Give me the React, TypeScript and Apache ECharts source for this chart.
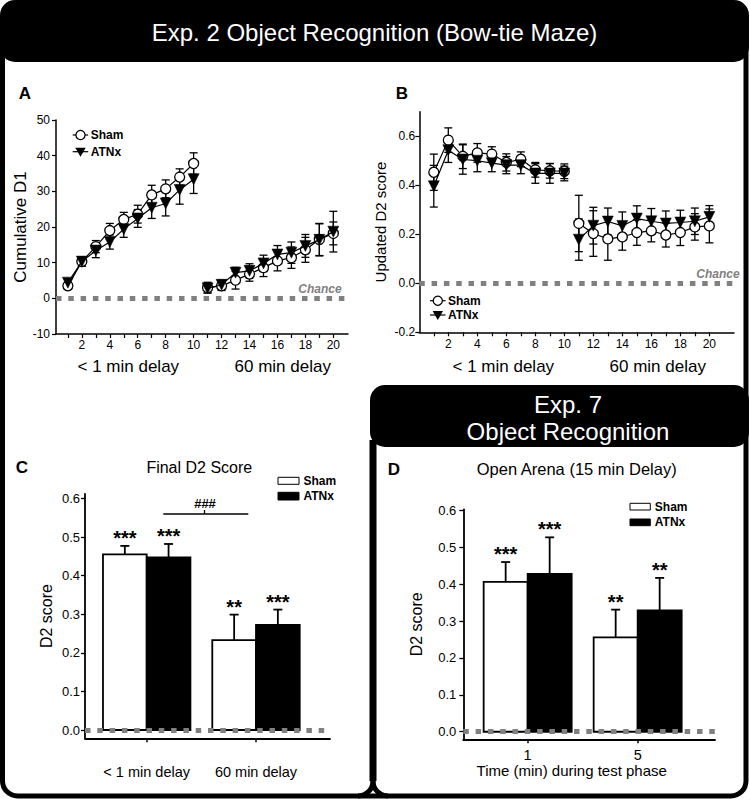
import React, { useEffect, useRef } from 'react';
import * as echarts from 'echarts';

// ---------- DATA ----------
const trials = [1, 2, 3, 4, 5, 6, 7, 8, 9, 10, 11, 12, 13, 14, 15, 16, 17, 18, 19, 20];
const trialLabels = [2, 4, 6, 8, 10, 12, 14, 16, 18, 20];

// Panel A: cumulative D1
const shamD1 = [3.5, 10.3, 14.5, 19.0, 22.1, 23.6, 29.0, 30.7, 34.0, 37.8, 3.0, 3.5, 5.1, 6.8, 8.6, 10.5, 11.4, 13.6, 16.5, 18.2];
const shamD1Err = [1.0, 1.2, 1.7, 2.0, 2.0, 2.5, 2.7, 2.5, 2.3, 3.0, 1.5, 1.3, 2.5, 2.0, 2.5, 2.8, 3.0, 3.5, 4.5, 3.2];
const atnxD1 = [4.4, 10.3, 13.4, 15.8, 19.4, 22.4, 25.4, 26.6, 30.4, 33.4, 2.8, 3.8, 7.2, 7.7, 9.8, 12.3, 12.8, 14.7, 16.4, 18.7];
const atnxD1Err = [1.0, 1.3, 2.0, 2.0, 2.3, 2.5, 3.0, 3.5, 4.0, 4.0, 1.3, 1.3, 1.5, 2.0, 2.3, 2.5, 3.0, 3.2, 4.5, 5.7];

// Panel B: updated D2
const shamD2 = [0.453, 0.584, 0.518, 0.532, 0.527, 0.493, 0.506, 0.463, 0.459, 0.457, 0.244, 0.203, 0.181, 0.189, 0.207, 0.214, 0.197, 0.207, 0.230, 0.234];
const shamD2Err = [0.074, 0.05, 0.05, 0.038, 0.03, 0.035, 0.03, 0.03, 0.03, 0.03, 0.115, 0.093, 0.087, 0.054, 0.052, 0.045, 0.049, 0.053, 0.054, 0.069];
const atnxD2 = [0.396, 0.543, 0.505, 0.500, 0.490, 0.482, 0.482, 0.448, 0.448, 0.448, 0.178, 0.235, 0.252, 0.234, 0.264, 0.253, 0.244, 0.248, 0.253, 0.271];
const atnxD2Err = [0.085, 0.05, 0.06, 0.045, 0.035, 0.035, 0.035, 0.04, 0.04, 0.03, 0.084, 0.075, 0.055, 0.057, 0.052, 0.052, 0.051, 0.05, 0.054, 0.046];

// Panel C: final D2
const delayGroups = ['< 1 min delay', '60 min delay'];
const shamFinal = [0.455, 0.233];
const shamFinalErr = [0.022, 0.066];
const atnxFinal = [0.447, 0.272];
const atnxFinalErr = [0.035, 0.04];
const shamFinalStars = ['***', '**'];
const atnxFinalStars = ['***', '***'];

// Panel D: open arena
const timeGroups = ['1', '5'];
const shamArena = [0.406, 0.256];
const shamArenaErr = [0.054, 0.075];
const atnxArena = [0.428, 0.329];
const atnxArenaErr = [0.099, 0.088];
const shamArenaStars = ['***', '**'];
const atnxArenaStars = ['***', '**'];

const dTicks = [0, 0.1, 0.2, 0.3, 0.4, 0.5, 0.6];
const bTicks = [-0.2, 0, 0.2, 0.4, 0.6];

// ---------- STYLE ----------
const F = "'Liberation Sans', Arial, Helvetica, sans-serif";
const BLACK = '#000';
const GRAY = '#808080';

const chanceLine = {
  silent: true,
  symbol: 'none',
  label: { show: false },
  emphasis: { disabled: true },
  lineStyle: { color: GRAY, width: 5, type: [5.5, 6.8], cap: 'butt' },
  data: [{ yAxis: 0 }],
  z: 6,
};

function errSeries(idx: number, means: number[], errs: number[], withChance: boolean) {
  return {
    type: 'custom',
    xAxisIndex: idx,
    yAxisIndex: idx,
    silent: true,
    clip: false,
    z: 1,
    data: trials.map((t, i) => [t, means[i], errs[i]]),
    renderItem: (_p: any, api: any) => {
      const x = api.value(0);
      const m = api.value(1);
      const e = api.value(2);
      const a = api.coord([x, m + e]);
      const b = api.coord([x, m - e]);
      const cw = 4;
      const st = { stroke: BLACK, lineWidth: 1.3 };
      return {
        type: 'group',
        children: [
          { type: 'line', shape: { x1: a[0], y1: a[1], x2: b[0], y2: b[1] }, style: st },
          { type: 'line', shape: { x1: a[0] - cw, y1: a[1], x2: a[0] + cw, y2: a[1] }, style: st },
          { type: 'line', shape: { x1: b[0] - cw, y1: b[1], x2: b[0] + cw, y2: b[1] }, style: st },
        ],
      };
    },
    markLine: withChance ? chanceLine : undefined,
  };
}

function lineSeries(name: string, idx: number, means: number[], s: number, e: number, sham: boolean) {
  return {
    name,
    type: 'line',
    xAxisIndex: idx,
    yAxisIndex: idx,
    z: sham ? 2 : 3,
    silent: true,
    data: trials.slice(s, e).map((t, i) => [t, means[s + i]]),
    lineStyle: { color: BLACK, width: 1.2 },
    symbol: sham ? 'circle' : 'triangle',
    symbolRotate: sham ? 0 : 180,
    symbolSize: sham ? 10 : 11,
    itemStyle: sham
      ? { color: '#fff', borderColor: BLACK, borderWidth: 1.3 }
      : { color: BLACK, borderColor: BLACK, borderWidth: 0.5 },
  };
}

function barSeries(
  name: string,
  idx: number,
  vals: number[],
  errs: number[],
  stars: string[],
  sham: boolean,
  withChance: boolean
) {
  return {
    name,
    type: 'custom',
    xAxisIndex: idx,
    yAxisIndex: idx,
    silent: true,
    clip: false,
    z: 2,
    data: vals.map((v, i) => [i + 1, v, errs[i]]),
    renderItem: (params: any, api: any) => {
      const c = api.value(0);
      const v = api.value(1);
      const e = api.value(2);
      const x0 = sham ? c - 0.4 : c;
      const x1 = sham ? c : c + 0.4;
      const tl = api.coord([x0, v]);
      const br = api.coord([x1, 0]);
      const mid = (tl[0] + br[0]) / 2;
      const et = api.coord([(x0 + x1) / 2, v + e]);
      const cw = 4.5;
      const st = { stroke: BLACK, lineWidth: 1.8 };
      return {
        type: 'group',
        children: [
          {
            type: 'rect',
            shape: { x: tl[0], y: tl[1], width: br[0] - tl[0], height: br[1] - tl[1] },
            style: { fill: sham ? '#fff' : BLACK, stroke: BLACK, lineWidth: 1.8 },
          },
          { type: 'line', shape: { x1: mid, y1: tl[1], x2: mid, y2: et[1] }, style: st },
          { type: 'line', shape: { x1: mid - cw, y1: et[1], x2: mid + cw, y2: et[1] }, style: st },
          {
            type: 'text',
            style: {
              text: stars[params.dataIndex],
              x: mid,
              y: et[1] - 8,
              align: 'center',
              verticalAlign: 'middle',
              fontSize: 20,
              fontWeight: 'bold',
              fontFamily: F,
              fill: BLACK,
            },
          },
        ],
      };
    },
    markLine: withChance ? chanceLine : undefined,
  };
}

const axisLine = (w: number) => ({ show: true, onZero: false, lineStyle: { color: BLACK, width: w } });

function txt(text: string, x: number, y: number, size: number, extra: any = {}) {
  return {
    type: 'text',
    x,
    y,
    silent: true,
    style: {
      text,
      fontSize: size,
      fontFamily: F,
      fill: extra.fill || BLACK,
      fontWeight: extra.fontWeight || 'normal',
      fontStyle: extra.fontStyle || 'normal',
      align: extra.align || 'center',
      verticalAlign: 'middle',
    },
  };
}

function lineLegend(x: number, y: number, sham: boolean) {
  const items: any[] = [
    { type: 'line', silent: true, shape: { x1: x, y1: y, x2: x + 15.5, y2: y }, style: { stroke: BLACK, lineWidth: 1.2 } },
  ];
  if (sham) {
    items.push({ type: 'circle', silent: true, shape: { cx: x + 7.8, cy: y, r: 4.6 }, style: { fill: '#fff', stroke: BLACK, lineWidth: 1.3 } });
  } else {
    items.push({
      type: 'polygon',
      silent: true,
      shape: { points: [[x + 2.6, y - 4], [x + 13, y - 4], [x + 7.8, y + 5]] },
      style: { fill: BLACK },
    });
  }
  items.push(txt(sham ? 'Sham' : 'ATNx', x + 18, y, 12, { align: 'left', fontWeight: 'bold' }));
  return items;
}

function barLegend(x: number, y: number, w: number, h: number, sham: boolean) {
  return [
    {
      type: 'rect',
      silent: true,
      shape: { x, y, width: w, height: h },
      style: { fill: sham ? '#fff' : BLACK, stroke: BLACK, lineWidth: 1 },
    },
    txt(sham ? 'Sham' : 'ATNx', x + w + 4.5, y + h / 2, 12, { align: 'left', fontWeight: 'bold' }),
  ];
}

const frame = [
  // outer frame
  { type: 'rect', silent: true, shape: { x: 2.5, y: 30, width: 743.5, height: 766, r: 15 }, style: { fill: 'none', stroke: BLACK, lineWidth: 5 } },
  // vertical divider lower half
  { type: 'line', silent: true, shape: { x1: 373, y1: 440, x2: 373, y2: 781 }, style: { stroke: BLACK, lineWidth: 7 } },
  { type: 'arc', silent: true, shape: { cx: 358, cy: 781, r: 15, startAngle: 0, endAngle: Math.PI / 2, clockwise: true }, style: { fill: 'none', stroke: BLACK, lineWidth: 5 } },
  { type: 'arc', silent: true, shape: { cx: 388, cy: 781, r: 15, startAngle: Math.PI / 2, endAngle: Math.PI, clockwise: true }, style: { fill: 'none', stroke: BLACK, lineWidth: 5 } },
  // headers
  { type: 'rect', silent: true, shape: { x: 0, y: 0, width: 749, height: 62, r: 15 }, style: { fill: BLACK } },
  { type: 'rect', silent: true, shape: { x: 370, y: 385, width: 379, height: 62, r: 15 }, style: { fill: BLACK } },
  txt('Exp. 2 Object Recognition (Bow-tie Maze)', 374.5, 32, 24, { fill: '#fff' }),
  txt('Exp. 7', 568, 404, 24, { fill: '#fff' }),
  txt('Object Recognition', 568, 431, 24, { fill: '#fff' }),
];

const annotations = [
  txt('A', 25, 93, 17, { fontWeight: 'bold' }),
  txt('B', 402, 93, 17, { fontWeight: 'bold' }),
  txt('C', 22, 467, 17, { fontWeight: 'bold' }),
  txt('D', 394, 469, 17, { fontWeight: 'bold' }),
  txt('Final D2 Score', 199.3, 467.3, 16),
  txt('Open Arena (15 min Delay)', 576.7, 469.3, 16.5),
  txt('Chance', 320, 289.3, 12, { fill: GRAY, fontWeight: 'bold', fontStyle: 'italic' }),
  txt('Chance', 718, 274.3, 12, { fill: GRAY, fontWeight: 'bold', fontStyle: 'italic' }),
  txt(delayGroups[0], 128.3, 366.7, 17),
  txt(delayGroups[1], 282.7, 366.7, 17),
  txt(delayGroups[0], 503.3, 366, 17),
  txt(delayGroups[1], 657.7, 366, 17),
  txt('Time (min) during test phase', 571.7, 770.7, 15),
  // ### significance bar
  { type: 'line', silent: true, shape: { x1: 163.3, y1: 514, x2: 248.3, y2: 514 }, style: { stroke: BLACK, lineWidth: 1.3 } },
  { type: 'line', silent: true, shape: { x1: 204.5, y1: 510, x2: 204.5, y2: 514 }, style: { stroke: BLACK, lineWidth: 1.3 } },
  txt('###', 205, 503.5, 13, { fontWeight: 'bold' }),
  ...lineLegend(72.7, 135, true),
  ...lineLegend(72.7, 151.7, false),
  ...lineLegend(430, 300.7, true),
  ...lineLegend(430, 315, false),
  ...barLegend(278, 477.3, 21, 7, true),
  ...barLegend(278, 492.3, 21, 7.7, false),
  ...barLegend(630, 503.3, 20.3, 6.7, true),
  ...barLegend(630, 519, 20.3, 6.7, false),
];

const tickLabel = (size: number, margin: number) => ({ color: BLACK, fontSize: size, fontFamily: F, margin });

const option: any = {
  animation: false,
  backgroundColor: '#fff',
  grid: [
    { left: 56, top: 120, width: 292, height: 214 },
    { left: 419.3, top: 111.7, width: 314.7, height: 220.6 },
    { left: 85, top: 493.8, width: 245, height: 244.5 },
    { left: 463.3, top: 509.3, width: 251.7, height: 230 },
  ],
  xAxis: [
    {
      gridIndex: 0, type: 'value', min: 0.15, max: 21.05,
      axisLine: axisLine(1.5),
      axisTick: { show: true, customValues: trials, length: 4, lineStyle: { color: BLACK, width: 1.2 } },
      axisLabel: { ...tickLabel(12, 5), customValues: trialLabels },
      splitLine: { show: false },
    },
    {
      gridIndex: 1, type: 'value', min: 0, max: 21.7,
      axisLine: axisLine(1.5),
      axisTick: { show: true, customValues: trials, length: 4, lineStyle: { color: BLACK, width: 1.2 } },
      axisLabel: { ...tickLabel(12, 6), customValues: trialLabels },
      splitLine: { show: false },
    },
    {
      gridIndex: 2, type: 'value', min: 0.4355, max: 2.677,
      axisLine: axisLine(1.8),
      axisTick: { show: true, customValues: [1, 2], length: 4, lineStyle: { color: BLACK, width: 1.5 } },
      axisLabel: { ...tickLabel(14.5, 26), customValues: [1, 2], formatter: (v: number) => delayGroups[Math.round(v) - 1] },
      splitLine: { show: false },
    },
    {
      gridIndex: 3, type: 'value', min: 0.415, max: 2.703,
      axisLine: axisLine(1.8),
      axisTick: { show: true, customValues: [1, 2], length: 4, lineStyle: { color: BLACK, width: 1.5 } },
      axisLabel: { ...tickLabel(14.5, 8), customValues: [1, 2], formatter: (v: number) => timeGroups[Math.round(v) - 1] },
      splitLine: { show: false },
    },
  ],
  yAxis: [
    {
      gridIndex: 0, type: 'value', min: -10, max: 50, interval: 10,
      name: 'Cumulative D1', nameLocation: 'middle', nameGap: 19,
      nameTextStyle: { color: BLACK, fontSize: 17, fontFamily: F },
      axisLine: axisLine(1.5),
      axisTick: { show: true, length: 4, lineStyle: { color: BLACK, width: 1.2 } },
      axisLabel: tickLabel(12, 6),
      splitLine: { show: false },
    },
    {
      gridIndex: 1, type: 'value', min: -0.2, max: 0.7,
      name: 'Updated D2 score', nameLocation: 'middle', nameGap: 31,
      nameTextStyle: { color: BLACK, fontSize: 15, fontFamily: F },
      axisLine: axisLine(1.5),
      axisTick: { show: true, customValues: bTicks, length: 4, lineStyle: { color: BLACK, width: 1.2 } },
      axisLabel: { ...tickLabel(12, 4), customValues: bTicks, formatter: (v: number) => v.toFixed(1) },
      splitLine: { show: false },
    },
    {
      gridIndex: 2, type: 'value', min: -0.0215, max: 0.612,
      name: 'D2 score', nameLocation: 'middle', nameGap: 31,
      nameTextStyle: { color: BLACK, fontSize: 16, fontFamily: F },
      axisLine: axisLine(1.8),
      axisTick: { show: true, customValues: dTicks, length: 4, lineStyle: { color: BLACK, width: 1.3 } },
      axisLabel: { ...tickLabel(13, 5), customValues: dTicks, formatter: (v: number) => v.toFixed(1) },
      splitLine: { show: false },
    },
    {
      gridIndex: 3, type: 'value', min: -0.0205, max: 0.603,
      name: 'D2 score', nameLocation: 'middle', nameGap: 39,
      nameTextStyle: { color: BLACK, fontSize: 16, fontFamily: F },
      axisLine: axisLine(1.8),
      axisTick: { show: true, customValues: dTicks, length: 4, lineStyle: { color: BLACK, width: 1.3 } },
      axisLabel: { ...tickLabel(13, 7), customValues: dTicks, formatter: (v: number) => v.toFixed(1) },
      splitLine: { show: false },
    },
  ],
  series: [
    errSeries(0, shamD1, shamD1Err, true),
    errSeries(0, atnxD1, atnxD1Err, false),
    lineSeries('Sham', 0, shamD1, 0, 10, true),
    lineSeries('Sham', 0, shamD1, 10, 20, true),
    lineSeries('ATNx', 0, atnxD1, 0, 10, false),
    lineSeries('ATNx', 0, atnxD1, 10, 20, false),
    errSeries(1, shamD2, shamD2Err, true),
    errSeries(1, atnxD2, atnxD2Err, false),
    lineSeries('Sham', 1, shamD2, 0, 10, true),
    lineSeries('Sham', 1, shamD2, 10, 20, true),
    lineSeries('ATNx', 1, atnxD2, 0, 10, false),
    lineSeries('ATNx', 1, atnxD2, 10, 20, false),
    barSeries('Sham', 2, shamFinal, shamFinalErr, shamFinalStars, true, true),
    barSeries('ATNx', 2, atnxFinal, atnxFinalErr, atnxFinalStars, false, false),
    barSeries('Sham', 3, shamArena, shamArenaErr, shamArenaStars, true, true),
    barSeries('ATNx', 3, atnxArena, atnxArenaErr, atnxArenaStars, false, false),
  ],
  graphic: [...frame, ...annotations],
};

export default function App() {
  const ref = useRef<HTMLDivElement>(null);
  useEffect(() => {
    if (!ref.current) return;
    const chart = echarts.init(ref.current, null, { renderer: 'svg' });
    chart.setOption(option);
    return () => chart.dispose();
  }, []);
  return (
    <div
      ref={ref}
      style={{ position: 'absolute', left: 0, top: 0, width: 750, height: 800, background: '#fff' }}
    />
  );
}
